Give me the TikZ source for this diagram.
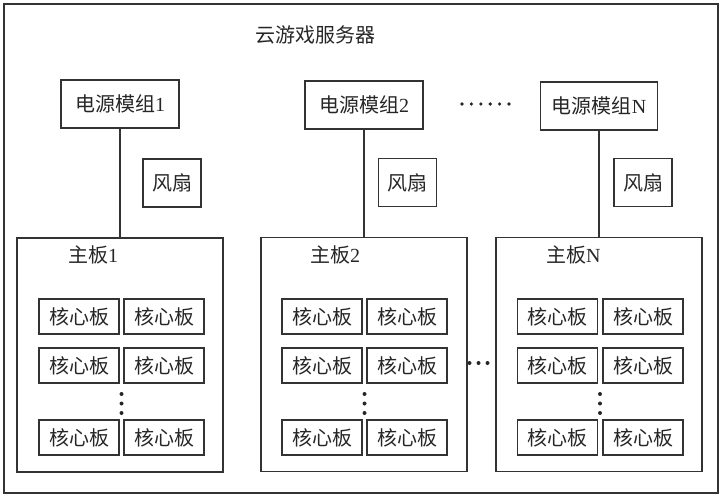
\documentclass[tikz,border=0pt]{standalone}
\usepackage{fontspec}
\usepackage{xcolor}
\usepackage{tikz}
\setmainfont{Liberation Serif}
\newfontfamily\cjk{Noto Sans CJK SC}

\tikzset{
	box/.style={draw=black!80, line width=1.1pt, inner sep=0pt, text=black!85,
		font=\fontsize{20}{22}\selectfont},
	power/.style={box, minimum width=118pt, minimum height=48pt},
	fan/.style={box, minimum width=58pt, minimum height=48pt},
	board/.style={box, minimum width=206pt, minimum height=234pt},
	core/.style={box, minimum width=80pt, minimum height=35pt},
	label/.style={inner sep=0pt, text=black!85, font=\fontsize{20}{22}\selectfont},
	wire/.style={draw=black!80, line width=1.1pt}
}

\begin{document}
\begin{tikzpicture}[x=1pt, y=-1pt]
	\useasboundingbox (0,0) rectangle (727,500);
	\node[box, minimum width=714pt, minimum height=489pt] (server) at (361,248.5) {};
	\node[label] (title) at (315,35) {\cjk 云游戏服务器};
	
	\node[power] (pm1) at (120,104) {{\cjk 电源模组}1};
	\node[power] (pm2) at (364,105) {{\cjk 电源模组}2};
	\node[power, minimum width=117pt] (pmN) at (599,106) {{\cjk 电源模组}N};
	\foreach \x in {462,471.4,...,510} \fill[black!85] (\x,104) circle (1.8pt);
	
	\node[fan] (fan1) at (172,183) {\cjk 风扇};
	\node[fan] (fan2) at (407.5,182.5) {\cjk 风扇};
	\node[fan] (fanN) at (643,182.5) {\cjk 风扇};
	
	\node[board] (mb1) at (120,355) {};
	\node[board] (mb2) at (364,354.5) {};
	\node[board] (mbN) at (599,354.5) {};
	\node[label, anchor=west] (lbl1) at (68,255) {{\cjk 主板}1};
	\node[label, anchor=west] (lbl2) at (310,255) {{\cjk 主板}2};
	\node[label, anchor=west] (lblN) at (546,255) {{\cjk 主板}N};
	
	\draw[wire] (pm1.south) -- (mb1.north);
	\draw[wire] (pm2.south) -- (mb2.north);
	\draw[wire] (pmN.south) -- (mbN.north);
	
	% core boards of board 1
	\node[core] (c11) at (79,316.5) {\cjk 核心板};
	\node[core] (c12) at (164,316.5) {\cjk 核心板};
	\node[core] (c13) at (79,365.5) {\cjk 核心板};
	\node[core] (c14) at (164,365.5) {\cjk 核心板};
	\node[core] (c15) at (79,437.5) {\cjk 核心板};
	\node[core] (c16) at (164,437.5) {\cjk 核心板};
	% core boards of board 2
	\node[core] (c21) at (322,316.5) {\cjk 核心板};
	\node[core] (c22) at (407,316.5) {\cjk 核心板};
	\node[core] (c23) at (322,365.5) {\cjk 核心板};
	\node[core] (c24) at (407,365.5) {\cjk 核心板};
	\node[core] (c25) at (322,437.5) {\cjk 核心板};
	\node[core] (c26) at (407,437.5) {\cjk 核心板};
	% core boards of board N
	\node[core] (cN1) at (557.5,316.5) {\cjk 核心板};
	\node[core] (cN2) at (643,316.5) {\cjk 核心板};
	\node[core] (cN3) at (557.5,365.5) {\cjk 核心板};
	\node[core] (cN4) at (643,365.5) {\cjk 核心板};
	\node[core] (cN5) at (557.5,437.5) {\cjk 核心板};
	\node[core] (cN6) at (643,437.5) {\cjk 核心板};
	
	\foreach \y in {394,403.5,413} {
		\fill[black!85] (121.5,\y) circle (2pt);
		\fill[black!85] (364.5,\y) circle (2pt);
		\fill[black!85] (600,\y) circle (2pt);
	}
	\foreach \x in {469.5,478.5,487.5} \fill[black!85] (\x,363) circle (2pt);
\end{tikzpicture}
\end{document}
